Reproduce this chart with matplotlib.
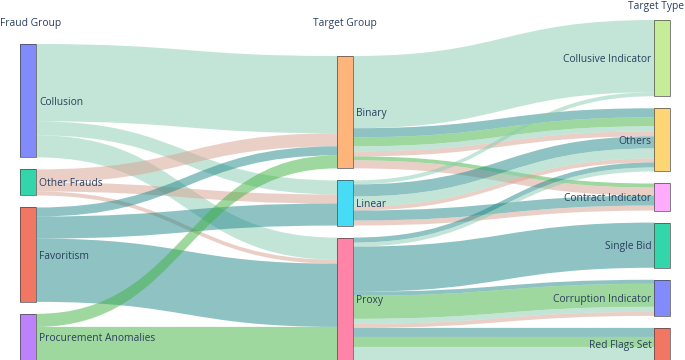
import matplotlib
matplotlib.use('Agg')
import matplotlib.pyplot as plt
from matplotlib.path import Path
from matplotlib.patches import PathPatch, Rectangle

# ---------------- data ----------------
fraud_groups = ['Collusion', 'Other Frauds', 'Favoritism', 'Procurement Anomalies']
target_groups = ['Binary', 'Linear', 'Proxy']
target_types = ['Collusive Indicator', 'Others', 'Contract Indicator',
                'Single Bid', 'Corruption Indicator', 'Red Flags Set']
column_titles = ['Fraud Group', 'Target Group', 'Target Type']

# stage 1: fraud group -> target group
s1_source = ['Collusion', 'Collusion', 'Collusion',
             'Other Frauds', 'Other Frauds', 'Other Frauds',
             'Favoritism', 'Favoritism', 'Favoritism',
             'Procurement Anomalies', 'Procurement Anomalies']
s1_target = ['Binary', 'Linear', 'Proxy',
             'Binary', 'Linear', 'Proxy',
             'Binary', 'Linear', 'Proxy',
             'Binary', 'Proxy']
s1_value = [77, 14, 22, 13, 9, 4, 9, 22, 63, 13, 33]

# stage 2: target group -> target type (coloured by fraud group)
s2_source = ['Binary',
             'Binary', 'Binary', 'Binary', 'Binary',
             'Binary', 'Binary',
             'Linear',
             'Linear', 'Linear', 'Linear',
             'Linear', 'Linear',
             'Proxy', 'Proxy',
             'Proxy',
             'Proxy', 'Proxy', 'Proxy', 'Proxy',
             'Proxy', 'Proxy', 'Proxy']
s2_target = ['Collusive Indicator',
             'Others', 'Others', 'Others', 'Others',
             'Contract Indicator', 'Contract Indicator',
             'Collusive Indicator',
             'Others', 'Others', 'Others',
             'Contract Indicator', 'Contract Indicator',
             'Others', 'Others',
             'Single Bid',
             'Corruption Indicator', 'Corruption Indicator', 'Corruption Indicator', 'Corruption Indicator',
             'Red Flags Set', 'Red Flags Set', 'Red Flags Set']
s2_group = ['Collusion',
            'Favoritism', 'Procurement Anomalies', 'Collusion', 'Other Frauds',
            'Procurement Anomalies', 'Other Frauds',
            'Collusion',
            'Favoritism', 'Collusion', 'Other Frauds',
            'Favoritism', 'Other Frauds',
            'Favoritism', 'Collusion',
            'Favoritism',
            'Favoritism', 'Procurement Anomalies', 'Collusion', 'Other Frauds',
            'Favoritism', 'Procurement Anomalies', 'Collusion']
s2_value = [72,
            9, 9, 5, 5,
            4, 8,
            4,
            12, 10, 4,
            10, 5,
            5, 4,
            45,
            4, 23, 5, 4,
            9, 10, 13]

node_colors = {
    'Collusion': '#636EFA', 'Other Frauds': '#00CC96', 'Favoritism': '#EF553B',
    'Procurement Anomalies': '#AB63FA', 'Binary': '#FFA15A', 'Linear': '#19D3F3',
    'Proxy': '#FF6692', 'Collusive Indicator': '#B6E880', 'Others': '#FECB52',
    'Contract Indicator': '#FF97FF', 'Single Bid': '#00CC96',
    'Corruption Indicator': '#636EFA', 'Red Flags Set': '#EF553B',
}
link_colors = {
    'Collusion': '#89cdb1', 'Other Frauds': '#d7a191',
    'Favoritism': '#1f8789', 'Procurement Anomalies': '#41b341',
}

# ---------------- layout ----------------
W, H = 685, 360
top, bottom = 20, 360
pad = 12
node_w = 16.5
col_x = [20, 337, 654]
columns = [fraud_groups, target_groups, target_types]

links = []  # (src, tgt, value, color)
for s, t, v in zip(s1_source, s1_target, s1_value):
    links.append((s, t, v, link_colors[s]))
for s, t, g, v in zip(s2_source, s2_target, s2_group, s2_value):
    links.append((s, t, v, link_colors[g]))

node_in = {}
node_out = {}
for s, t, v, c in links:
    node_out[s] = node_out.get(s, 0) + v
    node_in[t] = node_in.get(t, 0) + v
node_val = {n: max(node_in.get(n, 0), node_out.get(n, 0)) for col in columns for n in col}

scale = min((bottom - top - pad * (len(col) - 1)) / sum(node_val[n] for n in col)
            for col in columns)

node_pos = {}  # name -> (x, y0, y1, col)
for ci, col in enumerate(columns):
    total = sum(node_val[n] for n in col) * scale + pad * (len(col) - 1)
    y = bottom - total
    for n in col:
        h = node_val[n] * scale
        node_pos[n] = (col_x[ci], y, y + h, ci)
        y += h + pad

# order links at nodes
link_geom = [None] * len(links)
for n in node_pos:
    outs = [i for i, l in enumerate(links) if l[0] == n]
    outs.sort(key=lambda i: (node_pos[links[i][1]][1], i))
    y = node_pos[n][1]
    for i in outs:
        h = links[i][2] * scale
        link_geom[i] = [y, y + h, None, None]
        y += h
for n in node_pos:
    ins = [i for i, l in enumerate(links) if l[1] == n]
    ins.sort(key=lambda i: (node_pos[links[i][0]][1], i))
    y = node_pos[n][1]
    for i in ins:
        h = links[i][2] * scale
        link_geom[i][2] = y
        link_geom[i][3] = y + h
        y += h

# ---------------- draw ----------------
plt.rcParams['font.family'] = ['Open Sans', 'DejaVu Sans']
fig = plt.figure(figsize=(W / 100, H / 100), dpi=100)
ax = fig.add_axes([0, 0, 1, 1])
ax.set_xlim(0, W)
ax.set_ylim(H, 0)
ax.axis('off')

for i, (s, t, v, c) in enumerate(links):
    ys0, ys1, yt0, yt1 = link_geom[i]
    x0 = node_pos[s][0] + node_w
    x1 = node_pos[t][0]
    xm = (x0 + x1) / 2
    verts = [(x0, ys0), (xm, ys0), (xm, yt0), (x1, yt0),
             (x1, yt1), (xm, yt1), (xm, ys1), (x0, ys1), (x0, ys0)]
    codes = [Path.MOVETO, Path.CURVE4, Path.CURVE4, Path.CURVE4,
             Path.LINETO, Path.CURVE4, Path.CURVE4, Path.CURVE4, Path.CLOSEPOLY]
    ax.add_patch(PathPatch(Path(verts, codes), facecolor=c, alpha=0.5,
                           edgecolor='none', lw=0, zorder=1))

text_color = '#2a3f5f'
fs = 7.4
for n, (x, y0, y1, ci) in node_pos.items():
    ax.add_patch(Rectangle((x, y0), node_w, y1 - y0, facecolor=node_colors[n],
                           alpha=0.8, edgecolor='none', zorder=2))
    ax.add_patch(Rectangle((x, y0), node_w, y1 - y0, facecolor='none',
                           edgecolor='#444444', lw=0.6, alpha=0.8, zorder=3))
    ym = (y0 + y1) / 2
    if ci < 2:
        ax.text(x + node_w + 2.5, ym, n, ha='left', va='center_baseline', fontsize=fs,
                color=text_color, zorder=4)
    else:
        ax.text(x - 2.5, ym, n, ha='right', va='center_baseline', fontsize=fs,
                color=text_color, zorder=4)

ax.text(0, 22, column_titles[0], ha='left', va='center_baseline', fontsize=fs, color=text_color)
ax.text(345, 22, column_titles[1], ha='center', va='center_baseline', fontsize=fs, color=text_color)
ax.text(684, 5, column_titles[2], ha='right', va='center_baseline', fontsize=fs, color=text_color)

fig.savefig('out.png', dpi=100)
